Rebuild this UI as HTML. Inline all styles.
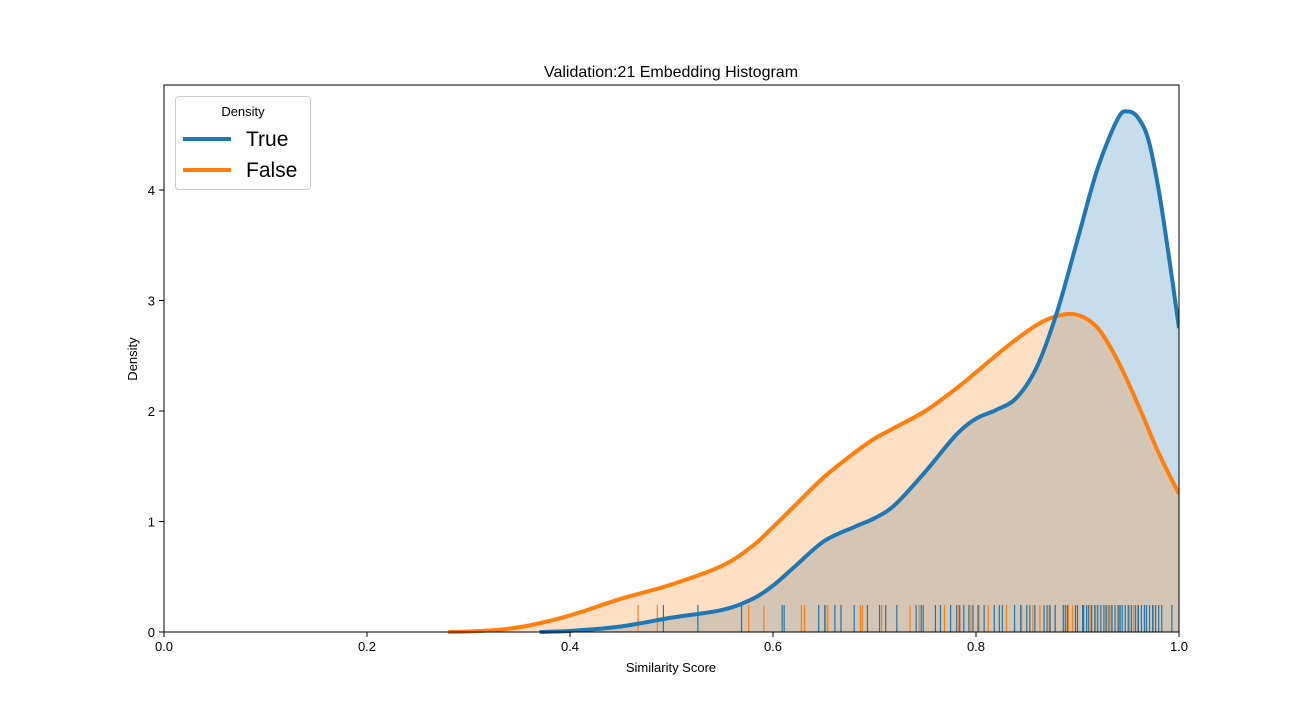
<!DOCTYPE html>
<html><head><meta charset="utf-8"><style>
body{margin:0;background:#fff}
svg text{font-family:"Liberation Sans","DejaVu Sans",sans-serif}
</style></head><body>
<svg id="chart" width="1310" height="710" xmlns="http://www.w3.org/2000/svg">
<rect width="1310" height="710" fill="#fff"/>
<g id="plot"></g>
<text x="671" y="77" font-size="16" text-anchor="middle">Validation:21 Embedding Histogram</text>
<text x="671" y="672" font-size="13" text-anchor="middle">Similarity Score</text>
<text x="137" y="359" font-size="13" text-anchor="middle" transform="rotate(-90 137 359)">Density</text>
<g>
<rect x="175.5" y="96.5" width="135" height="93" rx="3" fill="#fff" fill-opacity="0.8" stroke="#ccc"/>
<text x="243" y="116" font-size="13" text-anchor="middle">Density</text>
<g><line x1="183" y1="139" x2="231" y2="139" stroke="#1f77b4" stroke-width="4"/><text x="246" y="146" font-size="21">True</text></g>
<g><line x1="183" y1="170" x2="231" y2="170" stroke="#ff7f0e" stroke-width="4"/><text x="246" y="177" font-size="21">False</text></g>
</g>
</svg>
<script>
const trueX=[0.37,0.40,0.45,0.50,0.55,0.58,0.60,0.62,0.65,0.68,0.70,0.72,0.75,0.78,0.80,0.82,0.84,0.86,0.88,0.90,0.92,0.94,0.95,0.96,0.97,0.98,0.99,1.0];
const trueY=[0,0.01,0.05,0.13,0.2,0.3,0.42,0.58,0.82,0.95,1.03,1.15,1.45,1.78,1.93,2.01,2.12,2.4,2.9,3.55,4.2,4.65,4.71,4.65,4.45,4.0,3.4,2.75];
const falseX=[0.28,0.30,0.33,0.36,0.40,0.45,0.50,0.55,0.58,0.60,0.62,0.65,0.68,0.70,0.72,0.75,0.78,0.80,0.83,0.86,0.88,0.90,0.92,0.94,0.96,0.98,1.0];
const falseY=[0,0.005,0.02,0.06,0.15,0.3,0.43,0.6,0.78,0.95,1.13,1.4,1.62,1.75,1.85,2.0,2.2,2.35,2.58,2.78,2.86,2.87,2.75,2.45,2.05,1.62,1.25];
const rugFalse=[0.467,0.486,0.576,0.591,0.628,0.631,0.652,0.654,0.686,0.688,0.707,0.735,0.744,0.769,0.783,0.795,0.803,0.812,0.830,0.845,0.856,0.863,0.872,0.878,0.891,0.895,0.906,0.909,0.913,0.918,0.929,0.933,0.941,0.951,0.955,0.959,0.966,0.975];
const rugTrue=[0.492,0.526,0.569,0.609,0.611,0.645,0.651,0.661,0.667,0.680,0.693,0.705,0.711,0.722,0.741,0.746,0.748,0.760,0.765,0.775,0.781,0.784,0.788,0.793,0.797,0.802,0.808,0.818,0.823,0.826,0.838,0.844,0.850,0.853,0.858,0.867,0.870,0.873,0.878,0.886,0.888,0.890,0.898,0.900,0.905,0.906,0.909,0.911,0.914,0.917,0.920,0.923,0.926,0.928,0.931,0.934,0.937,0.940,0.942,0.944,0.947,0.950,0.953,0.957,0.960,0.963,0.966,0.968,0.971,0.974,0.977,0.980,0.983,0.993];
const xTicks=[0,0.2,0.4,0.6,0.8,1.0];
const xTickLabels=["0.0","0.2","0.4","0.6","0.8","1.0"];
const yTicks=[0,1,2,3,4];
const yTickLabels=["0","1","2","3","4"];

const L=164,R=1179,T=85,B=632;
const sx=v=>L+(R-L)*v;
const sy=v=>B-110.5*v;
const NS='http://www.w3.org/2000/svg';
const plot=document.getElementById('plot');
function mk(tag,attrs){const e=document.createElementNS(NS,tag);for(const k in attrs)e.setAttribute(k,attrs[k]);plot.appendChild(e);return e;}
function smooth(xs,ys){
  const p=xs.map((x,i)=>[sx(x),sy(ys[i])]);
  let d='M'+p[0][0]+','+p[0][1];
  for(let i=0;i<p.length-1;i++){
    const p0=p[i-1]||p[i],p1=p[i],p2=p[i+1],p3=p[i+2]||p2;
    const c1=[p1[0]+(p2[0]-p0[0])/6,p1[1]+(p2[1]-p0[1])/6];
    const c2=[p2[0]-(p3[0]-p1[0])/6,p2[1]-(p3[1]-p1[1])/6];
    d+=' C'+c1[0]+','+c1[1]+' '+c2[0]+','+c2[1]+' '+p2[0]+','+p2[1];
  }
  return d;
}
function series(xs,ys,color,name){
  const line=smooth(xs,ys);
  const a=mk('path',{d:line+' L'+sx(xs[xs.length-1])+','+B+' L'+sx(xs[0])+','+B+' Z',fill:color,'fill-opacity':0.25,stroke:'none'});
  
  
  return line;
}
const lt=series(trueX,trueY,'#1f77b4','true-density');
const lf=series(falseX,falseY,'#ff7f0e','false-density');
rugFalse.forEach(v=>{const e=mk('line',{x1:sx(v),x2:sx(v),y1:B,y2:B-27,stroke:'#ff7f0e','stroke-width':1.2});
  
  });
rugTrue.forEach(v=>{const e=mk('line',{x1:sx(v),x2:sx(v),y1:B,y2:B-27,stroke:'#1f77b4','stroke-width':1.2});
  
  });
const pf=mk('path',{d:lf,fill:'none',stroke:'#ff7f0e','stroke-width':4});


const pt=mk('path',{d:lt,fill:'none',stroke:'#1f77b4','stroke-width':4});


const cover=mk('rect',{x:R+0.5,y:0,width:200,height:710,fill:'#fff'});


const frame=mk('rect',{x:L,y:T,width:R-L,height:B-T,fill:'none',stroke:'#000','stroke-width':1});


xTicks.forEach((v,i)=>{
  const t=mk('line',{x1:sx(v),x2:sx(v),y1:B,y2:B+5,stroke:'#000'});
  
  
  const l=mk('text',{x:sx(v),y:B+19,'font-size':13,'text-anchor':'middle'});l.textContent=xTickLabels[i];
  
  
});
yTicks.forEach((v,i)=>{
  const t=mk('line',{x1:L-5,x2:L,y1:sy(v),y2:sy(v),stroke:'#000'});
  
  
  const l=mk('text',{x:L-9,y:sy(v)+5,'font-size':13,'text-anchor':'end'});l.textContent=yTickLabels[i];
  
  
});
</script>
</body></html>
